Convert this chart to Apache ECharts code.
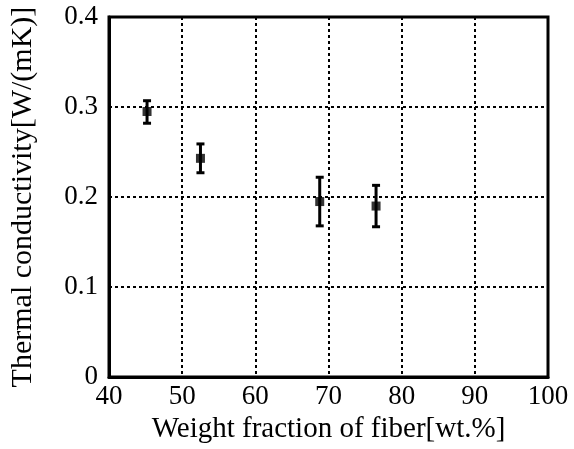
<!DOCTYPE html>
<html><head><meta charset="utf-8">
<script src="https://cdn.jsdelivr.net/npm/echarts@6/dist/echarts.min.js"></script>
<style>html,body{margin:0;padding:0;background:#fff}#c{width:574px;height:449px}</style>
</head><body><div id="c"></div>
<script>
const xValues = [45.2, 52.5, 68.8, 76.5];
const yValues = [0.295, 0.243, 0.195, 0.190];
const yLow = [0.282, 0.227, 0.168, 0.167];
const yHigh = [0.307, 0.259, 0.222, 0.213];
const xTicks = [40, 50, 60, 70, 80, 90, 100];
const yTicks = [0, 0.1, 0.2, 0.3, 0.4];

const font = 'Liberation Serif';
const chart = echarts.init(document.getElementById('c'));
const pts = xValues.map((x, i) => [x, yValues[i]]);
const errs = xValues.map((x, i) => [x, yLow[i], yHigh[i]]);
chart.setOption({
  animation: false,
  grid: {left: 107, right: 26, top: 17, bottom: 66, show: true, borderColor: '#000', borderWidth: 3},
  xAxis: {
    type: 'value', min: 40, max: 100, interval: 10,
    name: 'Weight fraction of fiber[wt.%]', nameLocation: 'middle', nameGap: 30,
    nameTextStyle: {fontFamily: font, fontSize: 29, color: '#000'},
    axisLine: {show: true, lineStyle: {color: '#000', width: 3}},
    axisTick: {show: false},
    axisLabel: {fontFamily: font, fontSize: 27, color: '#000', margin: 6,
      formatter: v => xTicks.includes(v) ? String(v) : ''},
    splitLine: {show: true, lineStyle: {color: '#000', type: [3, 3], width: 2}}
  },
  yAxis: {
    type: 'value', min: 0, max: 0.4, interval: 0.1,
    name: 'Thermal conductivity[W/(mK)]', nameLocation: 'middle', nameGap: 71,
    nameTextStyle: {fontFamily: font, fontSize: 30, color: '#000'},
    axisLine: {show: true, lineStyle: {color: '#000', width: 3}},
    axisTick: {show: false},
    axisLabel: {fontFamily: font, fontSize: 27, color: '#000', margin: 11,
      formatter: v => { const t = yTicks.find(k => Math.abs(k - v) < 1e-9); return t === undefined ? '' : (t === 0 ? '0' : t.toFixed(1)); }},
    splitLine: {show: true, lineStyle: {color: '#000', type: [3, 3], width: 2}}
  },
  series: [
    {
      type: 'custom',
      data: errs,
      z: 3,
      renderItem: (params, api) => {
        const x = api.value(0);
        const lo = api.coord([x, api.value(1)]);
        const hi = api.coord([x, api.value(2)]);
        const hw = 4;
        const st = {stroke: '#000', lineWidth: 3};
        return {type: 'group', children: [
          {type: 'line', shape: {x1: lo[0], y1: lo[1], x2: hi[0], y2: hi[1]}, style: st},
          {type: 'line', shape: {x1: lo[0] - hw, y1: lo[1], x2: lo[0] + hw, y2: lo[1]}, style: st},
          {type: 'line', shape: {x1: hi[0] - hw, y1: hi[1], x2: hi[0] + hw, y2: hi[1]}, style: st}
        ]};
      }
    },
    {
      type: 'scatter', data: pts, symbol: 'rect', symbolSize: 9, z: 4,
      itemStyle: {color: '#000'}
    }
  ]
});
</script></body></html>
